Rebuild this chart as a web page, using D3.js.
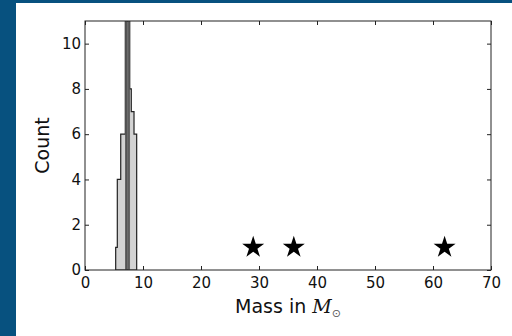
<!DOCTYPE html>
<html lang="en">
<head>
<meta charset="UTF-8">
<title>Mass histogram</title>
<style>
    body { margin: 0; background: #fff; }
    svg text { font-family: "DejaVu Sans", sans-serif; fill: #111; }
</style>
</head>
<body>
<script src="https://cdn.jsdelivr.net/npm/d3@7/dist/d3.min.js"></script>
<script>
    // histogram bins (mass in solar masses) and counts
    var binEdges = [5.29, 5.57, 5.87, 6.16, 6.42, 6.69, 6.95, 7.20, 7.45, 7.71, 7.98, 8.22, 8.45, 8.68, 8.91];
    var counts = [1, 4, 4, 6, 6, 6, 13, 17, 14, 8, 7, 7, 6, 6];

    // star markers
    var starMass = [29, 36, 62];
    var starCount = [1, 1, 1];

    var xTicks = [0, 10, 20, 30, 40, 50, 60, 70];
    var yTicks = [0, 2, 4, 6, 8, 10];

    var W = 512, H = 336;
    var pLeft = 85, pRight = 491, pTop = 21, pBottom = 270;

    var svg = d3.select("body").append("svg")
        .attr("width", W)
        .attr("height", H);

    // page background: blue strip on left and top
    svg.append("rect").attr("width", W).attr("height", H).attr("fill", "#07517f");
    svg.append("rect").attr("x", 16).attr("y", 3)
        .attr("width", W - 16).attr("height", H - 3).attr("fill", "#fff");

    var x = d3.scaleLinear().domain([0, 70]).range([pLeft, pRight]);
    var y = d3.scaleLinear().domain([0, 11]).range([pBottom, pTop]);
    var yMax = y.domain()[1];

    svg.append("clipPath").attr("id", "plot")
        .append("rect")
        .attr("x", pLeft).attr("y", pTop)
        .attr("width", pRight - pLeft).attr("height", pBottom - pTop);

    var hist = svg.append("g").attr("clip-path", "url(#plot)");

    // bins running off the top show darker (overlapping edges in the original)
    hist.selectAll(".over")
        .data(counts.filter(function(c) { return c > yMax; }).map(function(c) {
            var i = counts.indexOf(c);
            return [binEdges[i], binEdges[i + 1]];
        }))
        .enter()
        .append("rect")
        .attr("class", "over")
        .attr("x", function(d) { return x(d[0]); })
        .attr("y", pTop)
        .attr("width", function(d) { return x(d[1]) - x(d[0]); })
        .attr("height", pBottom - pTop);

    // histogram as a step outline
    var pts = [[binEdges[0], 0]];
    counts.forEach(function(c, i) {
        pts.push([binEdges[i], c]);
        pts.push([binEdges[i + 1], c]);
    });
    pts.push([binEdges[binEdges.length - 1], 0]);

    var line = d3.line()
        .x(function(d) { return x(d[0]); })
        .y(function(d) { return y(d[1]); });

    hist.insert("path", ".over")
        .attr("d", line(pts) + "Z")
        .attr("fill", "#d3d3d3")
        .attr("stroke", "#222")
        .attr("stroke-width", 1.2);

    hist.selectAll(".over")
        .attr("fill", "#7a7a7a")
        .attr("stroke", "#444")
        .attr("stroke-width", 0.6);

    // stars
    var star = d3.symbol().type(d3.symbolStar).size(150);
    svg.selectAll(".star")
        .data(starMass)
        .enter()
        .append("path")
        .attr("class", "star")
        .attr("transform", function(d, i) {
            return "translate(" + x(d) + "," + y(starCount[i]) + ")";
        })
        .attr("d", star)
        .attr("fill", "#000");

    // frame
    svg.append("rect")
        .attr("x", pLeft).attr("y", pTop)
        .attr("width", pRight - pLeft).attr("height", pBottom - pTop)
        .attr("fill", "none")
        .attr("stroke", "#222")
        .attr("stroke-width", 1);

    // axes with inward ticks on all four sides
    var fmt = d3.format("d");
    svg.append("g").attr("transform", "translate(0," + pBottom + ")")
        .call(d3.axisBottom(x).tickValues(xTicks).tickFormat(fmt).tickSizeInner(-4).tickSizeOuter(0).tickPadding(7));
    svg.append("g").attr("transform", "translate(0," + pTop + ")")
        .call(d3.axisTop(x).tickValues(xTicks).tickFormat("").tickSizeInner(-4).tickSizeOuter(0));
    svg.append("g").attr("transform", "translate(" + pLeft + ",0)")
        .call(d3.axisLeft(y).tickValues(yTicks).tickFormat(fmt).tickSizeInner(-4).tickSizeOuter(0).tickPadding(4));
    svg.append("g").attr("transform", "translate(" + pRight + ",0)")
        .call(d3.axisRight(y).tickValues(yTicks).tickFormat("").tickSizeInner(-4).tickSizeOuter(0));

    svg.selectAll(".domain").remove();
    svg.selectAll(".tick line").attr("stroke", "#222");
    svg.selectAll(".tick text")
        .attr("font-size", 15)
        .attr("font-family", "DejaVu Sans")
        .attr("fill", "#1a1a1a");

    // axis labels
    var xl = svg.append("text")
        .attr("x", (pLeft + pRight) / 2)
        .attr("y", 313)
        .attr("text-anchor", "middle")
        .attr("font-size", 19);
    xl.append("tspan").text("Mass in ");
    xl.append("tspan").text("M")
        .attr("font-family", "DejaVu Serif")
        .attr("font-style", "italic");
    xl.append("tspan").text("⊙")
        .attr("font-size", 11)
        .attr("dy", 4)
        .attr("fill", "#555");

    svg.append("text")
        .attr("transform", "translate(49," + ((pTop + pBottom) / 2) + ") rotate(-90)")
        .attr("text-anchor", "middle")
        .attr("font-size", 19)
        .text("Count");
</script>
</body>
</html>
